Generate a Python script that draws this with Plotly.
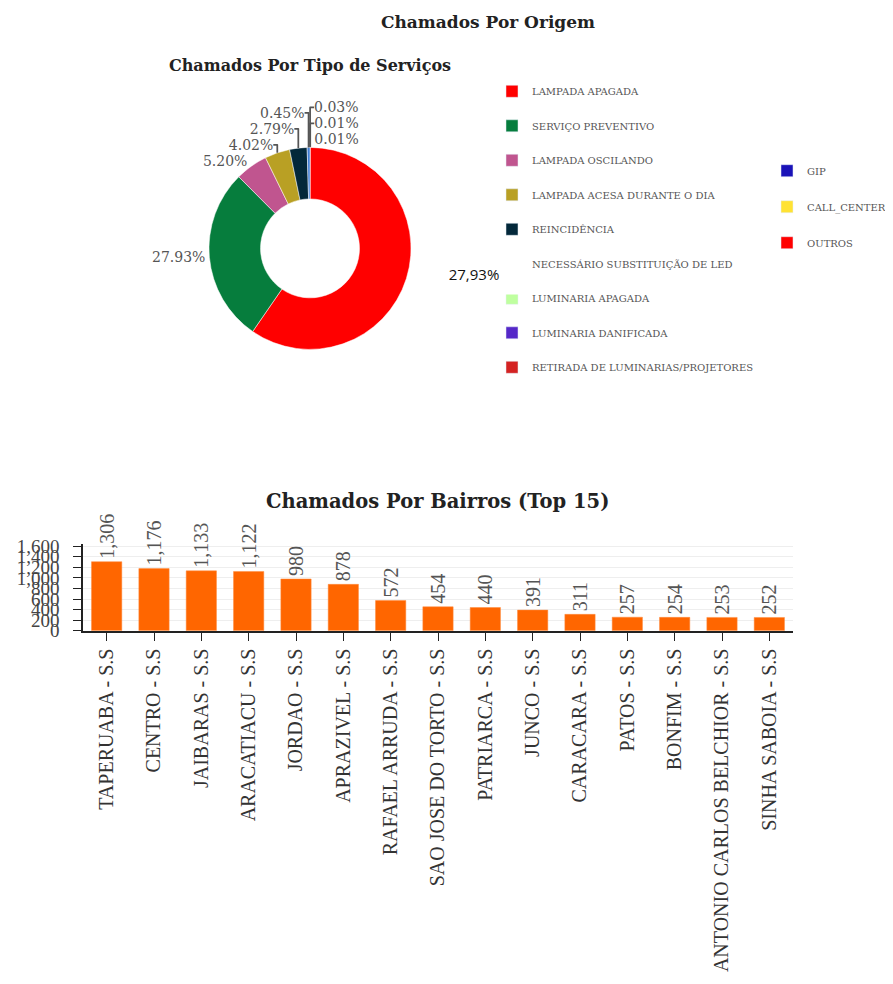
import plotly.graph_objects as go

# ---- Data ----
servico_labels = [
    "LAMPADA APAGADA", "SERVIÇO PREVENTIVO", "LAMPADA OSCILANDO",
    "LAMPADA ACESA DURANTE O DIA", "REINCIDÊNCIA",
    "NECESSÁRIO SUBSTITUIÇÃO DE LED", "LUMINARIA APAGADA",
    "LUMINARIA DANIFICADA", "RETIRADA DE LUMINARIAS/PROJETORES",
]
servico_pct = [59.56, 27.93, 5.20, 4.02, 2.79, 0.45, 0.03, 0.01, 0.01]
servico_colors = ["#FF0000", "#067D3D", "#C0558F", "#B9A024", "#03283A",
                  "#3E7ED6", "#BFFF9F", "#5528C8", "#D42222"]
# order in which the slices run clockwise from 12 o'clock
pie_order = [6, 7, 8, 0, 1, 2, 3, 4, 5]
# the largest slice's label is overwritten by the "27,93%" note in the reference
pie_label_hidden = ["LAMPADA APAGADA"]

origem_labels = ["GIP", "CALL_CENTER", "OUTROS"]
origem_colors = ["#1A12B8", "#FFE234", "#FF0000"]

bairros = [
    "TAPERUABA - S.S", "CENTRO - S.S", "JAIBARAS - S.S", "ARACATIACU - S.S",
    "JORDAO - S.S", "APRAZIVEL - S.S", "RAFAEL ARRUDA - S.S",
    "SAO JOSE DO TORTO - S.S", "PATRIARCA - S.S", "JUNCO - S.S",
    "CARACARA - S.S", "PATOS - S.S", "BONFIM - S.S",
    "ANTONIO CARLOS BELCHIOR - S.S", "SINHA SABOIA - S.S",
]
bairros_chamados = [1306, 1176, 1133, 1122, 980, 878, 572, 454, 440, 391,
                    311, 257, 254, 253, 252]
y_ticks = [0, 200, 400, 600, 800, 1000, 1200, 1400, 1600]

# page body has an 8px margin, so the figure is slightly smaller than the page
OFF = 8
W, H = 893 - OFF, 984 - OFF


def px(x):
    return (x - OFF) / W


def py(y):
    return 1 - (y - OFF) / H


SERIF = "DejaVu Serif"
TIMES = "Liberation Serif"

fig = go.Figure()

pie_labels = [servico_labels[i] for i in pie_order]

# Donut chart
fig.add_trace(go.Pie(
    labels=pie_labels,
    values=[servico_pct[i] for i in pie_order],
    marker=dict(colors=[servico_colors[i] for i in pie_order],
                line=dict(color="white", width=0.5)),
    hole=0.49,
    sort=False,
    direction="clockwise",
    textposition="outside",
    texttemplate=["" if lab in pie_label_hidden else "%{percent:.2%}"
                  for lab in pie_labels],
    textfont=dict(family=SERIF, size=14, color="#555"),
    domain=dict(x=[px(207), px(413)], y=[py(348), py(142)]),
    showlegend=False,
))

# Legend entries (service types)
for lab, col in zip(servico_labels, servico_colors):
    fig.add_trace(go.Bar(
        x=[None], y=[None], name=lab, marker_color=col,
        xaxis="x2", yaxis="y2", legend="legend", legendgroup=lab,
        showlegend=True,
    ))
# Legend entries (origin)
for lab, col in zip(origem_labels, origem_colors):
    fig.add_trace(go.Bar(
        x=[None], y=[None], name=lab, marker_color=col,
        xaxis="x2", yaxis="y2", legend="legend2", legendgroup=lab,
        showlegend=True,
    ))

# Bar chart
fig.add_trace(go.Bar(
    x=bairros, y=bairros_chamados,
    marker=dict(color="#FF6600", line=dict(color="#FF8A3D", width=0.5)),
    texttemplate="%{y:,}",
    textposition="outside",
    textangle=-90,
    constraintext="none",
    textfont=dict(family=TIMES, size=20, color="#555"),
    cliponaxis=False,
    showlegend=False,
    xaxis="x", yaxis="y",
))

fig.update_layout(
    width=W, height=H,
    margin=dict(l=0, r=0, t=0, b=0),
    paper_bgcolor="white", plot_bgcolor="white",
    bargap=0.36,
    title=dict(text="Chamados Por Origem", x=px(488), y=py(22),
               xanchor="center", yanchor="middle",
               font=dict(family=SERIF, size=17, color="#222", weight="bold")),
    xaxis=dict(domain=[px(83), px(793)], anchor="y",
               tickangle=-90, ticks="outside", ticklen=8, tickcolor="#222",
               showline=True, linecolor="#222", linewidth=1.5,
               tickfont=dict(family=TIMES, size=20, color="#333")),
    yaxis=dict(domain=[py(635), py(546)], anchor="x",
               range=[0, 1650], tickvals=y_ticks, ticks="outside", ticklen=8,
               tickcolor="#222", tickformat=",", ticklabelstandoff=10,
               showline=True, linecolor="#222", linewidth=1.5,
               showgrid=True, gridcolor="#EEEEEE",
               tickfont=dict(family=TIMES, size=19, color="#444")),
    xaxis2=dict(domain=[0, 0.01], anchor="y2", visible=False),
    yaxis2=dict(domain=[0.99, 1], anchor="x2", visible=False),
    legend=dict(x=px(492), y=py(70), xanchor="left", yanchor="top",
                traceorder="grouped", tracegroupgap=15.5,
                bgcolor="rgba(0,0,0,0)",
                font=dict(family=SERIF, size=10, color="#555")),
    legend2=dict(x=px(767), y=py(151), xanchor="left", yanchor="top",
                 traceorder="grouped", tracegroupgap=17,
                 bgcolor="rgba(0,0,0,0)",
                 font=dict(family=SERIF, size=10, color="#555")),
    annotations=[
        dict(text="Chamados Por Tipo de Serviços", x=px(310), y=py(58),
             xref="paper", yref="paper", showarrow=False,
             xanchor="center", yanchor="middle",
             font=dict(family=SERIF, size=16, color="#222", weight="bold")),
        dict(text="Chamados Por Bairros (Top 15)", x=px(437), y=py(503),
             xref="paper", yref="paper", showarrow=False,
             xanchor="center", yanchor="middle",
             font=dict(family=SERIF, size=19.5, color="#222", weight="bold")),
        dict(text="27,93%", x=px(422), y=py(271),
             xref="paper", yref="paper", showarrow=False,
             xanchor="left", yanchor="middle", align="center",
             width=100, height=38, bgcolor="white",
             font=dict(family="Open Sans", size=15, color="#111")),
    ],
)

fig.write_html("out.html")
